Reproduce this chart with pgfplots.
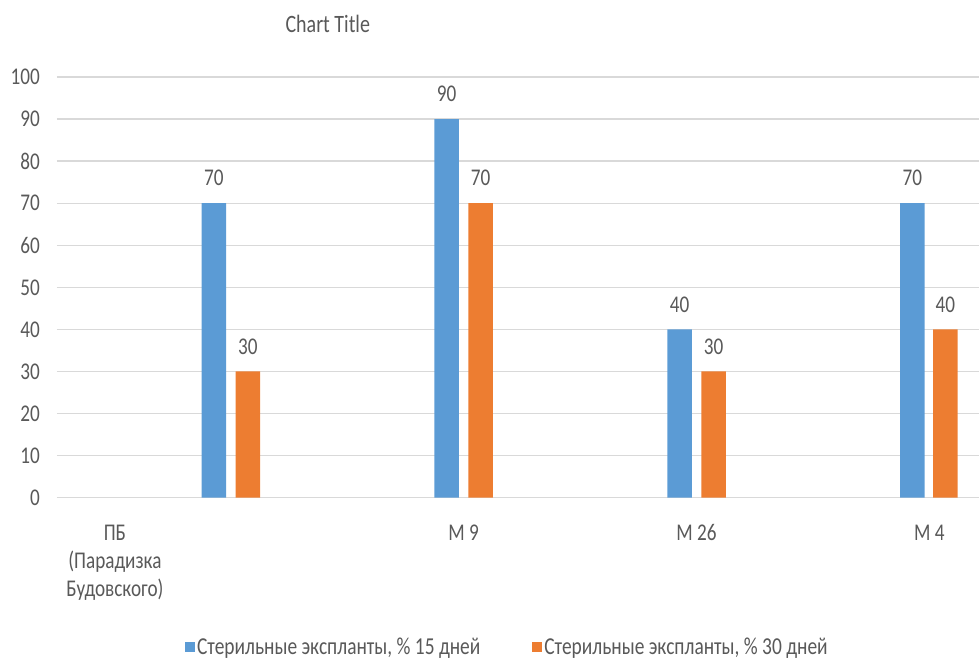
\documentclass[border=0pt]{standalone}
\usepackage{pgfplots}
\pgfplotsset{compat=1.18}
\usepackage{fontspec}
\setmainfont{Carlito}[FakeStretch=0.8]
\definecolor{barblue}{HTML}{5B9BD5}
\definecolor{barorange}{HTML}{ED7D31}
\definecolor{txtgray}{HTML}{595959}
\definecolor{gridgray}{HTML}{D9D9D9}
\newcommand{\ls}{\vphantom{Б6}}

\begin{document}
\begin{tikzpicture}[x=1pt,y=1pt]
\begin{axis}[
  scale only axis,
  width=923pt, height=421pt,
  xmin=57, xmax=980, ymin=0, ymax=100,
  axis line style={draw=none},
  major tick length=0pt,
  ymajorgrids,
  grid style={gridgray, line width=1.3pt},
  ytick={0,10,...,100},
  xtick={115,464,697,930},
  xticklabels={{\ls ПБ\\(Парадизка\\Будовского)}, {\ls М 9}, {\ls М 26}, {\ls М 4}},
  tick label style={font=\fontsize{24}{28}\selectfont, text=txtgray},
  /pgf/number format/assume math mode=true,
  yticklabel style={inner sep=0pt, anchor=east, xshift=-17pt},
  xticklabel style={inner sep=0pt, anchor=north, align=center, yshift=-26pt},
  ybar, bar width=24.5,
  nodes near coords,
  nodes near coords style={font=\fontsize{24}{28}\selectfont, text=txtgray,
    inner sep=0pt, anchor=south, yshift=17pt},
  legend columns=2,
  legend style={at={(axis cs:185,-35.4)}, anchor=west, draw=none, fill=none,
    inner sep=0pt, font=\fontsize{24.3}{28}\selectfont, text=txtgray,
    /tikz/every even column/.append style={column sep=50pt}},
  legend image code/.code={\fill[#1] (0pt,-5pt) rectangle (10pt,5pt);},
  clip=false,
]
\draw[gridgray, line width=1.3pt] (axis cs:57,0) -- (axis cs:980,0);
% sterile explants after 15 days
\addplot[fill=barblue, draw=none, bar shift=0pt]
  coordinates {(214,70) (447,90) (680,40) (913,70)};
% sterile explants after 30 days
\addplot[fill=barorange, draw=none, bar shift=0pt]
  coordinates {(248,30) (481,70) (714,30) (946,40)};
\legend{{Стерильные экспланты, \% 15 дней}, {Стерильные экспланты, \% 30 дней}}
\node[font=\fontsize{25}{28}\selectfont, text=txtgray, inner sep=0pt]
  at (axis cs:328,112.6) {Chart Title};
\end{axis}
\path[use as bounding box] (-57pt,-163pt) rectangle (923pt,498pt);
\end{tikzpicture}
\end{document}
